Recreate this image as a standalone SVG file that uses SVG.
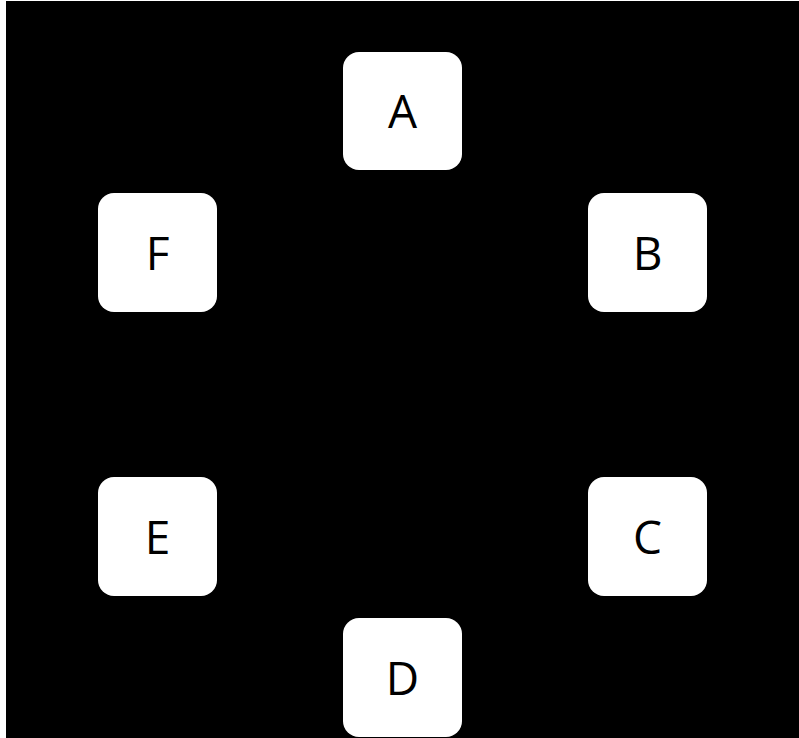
<svg xmlns="http://www.w3.org/2000/svg" width="799" height="738" viewBox="0 0 799 738">
<style>
.box{fill:#ffffff;}
.lbl{font-family:"Open Sans","Liberation Sans",sans-serif;font-size:46px;fill:#000000;text-anchor:middle;dominant-baseline:central;}
</style>
<rect x="0" y="0" width="799" height="738" fill="#ffffff"/>
<rect x="6" y="1" width="793" height="737" fill="#000000"/>
<g id="connectors"></g>
<g id="node-A"><rect class="box" x="343" y="52" width="119" height="118" rx="16"/><text class="lbl" x="402.5" y="110">A</text></g>
<g id="node-B"><rect class="box" x="588" y="193" width="119" height="119" rx="16"/><text class="lbl" x="647.5" y="252">B</text></g>
<g id="node-C"><rect class="box" x="588" y="477" width="119" height="119" rx="16"/><text class="lbl" x="647.5" y="536">C</text></g>
<g id="node-D"><rect class="box" x="343" y="618" width="119" height="119" rx="16"/><text class="lbl" x="402.5" y="677">D</text></g>
<g id="node-E"><rect class="box" x="98" y="477" width="119" height="119" rx="16"/><text class="lbl" x="157.5" y="536">E</text></g>
<g id="node-F"><rect class="box" x="98" y="193" width="119" height="119" rx="16"/><text class="lbl" x="157.5" y="252">F</text></g>
</svg>
